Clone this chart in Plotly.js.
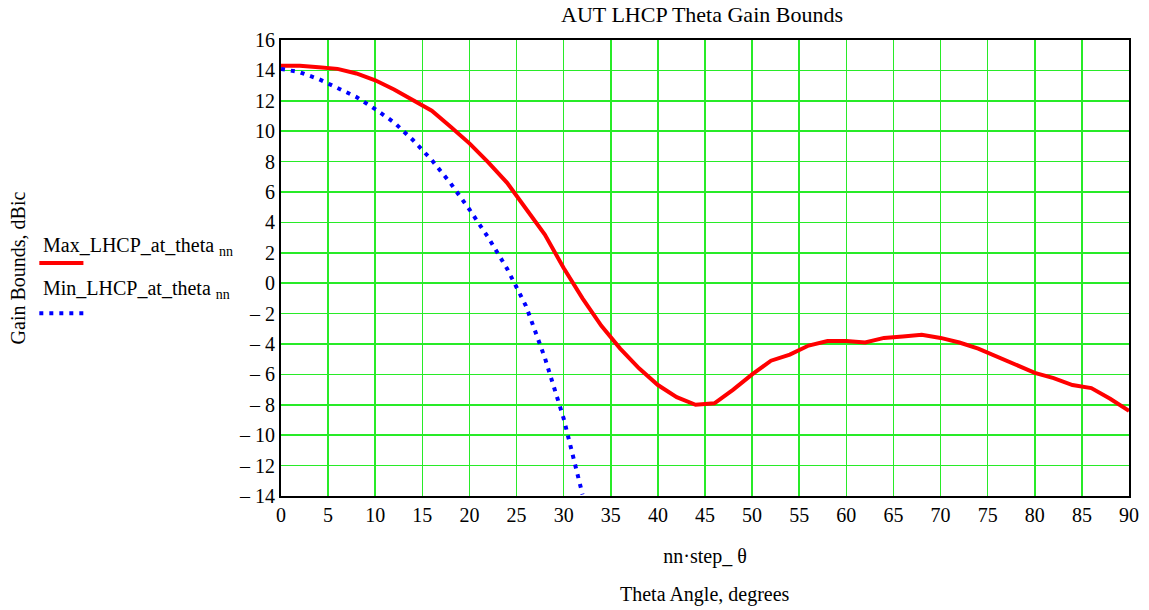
<!DOCTYPE html>
<html><head><meta charset="utf-8">
<script src="https://cdn.plot.ly/plotly-3.0.1.min.js"></script>
<style>html,body{margin:0;padding:0;background:#fff}#chart{width:1149px;height:610px}</style>
</head><body><div id="chart"></div>
<script>
const thetaMax = [0,2,4,6,8,10,12,14,16,18,20,22,24,26,28,30,32,34,36,38,40,42,44,46,48,50,52,54,56,58,60,62,64,66,68,70,72,74,76,78,80,82,84,86,88,90];
const maxLHCP = [14.3,14.3,14.2,14.1,13.8,13.35,12.75,12.05,11.35,10.3,9.2,7.95,6.6,4.9,3.2,1.0,-1.0,-2.8,-4.3,-5.6,-6.7,-7.5,-8.0,-7.9,-7.0,-6.0,-5.1,-4.7,-4.1,-3.8,-3.8,-3.9,-3.6,-3.5,-3.4,-3.6,-3.9,-4.3,-4.85,-5.4,-5.9,-6.25,-6.7,-6.9,-7.6,-8.4];
const thetaMin = [0,2,4,6,8,10,12,14,16,18,20,22,24,26,28,30,32];
const minLHCP = [14.1,13.88,13.43,12.87,12.25,11.45,10.58,9.42,8.1,6.57,4.85,3.0,0.95,-1.5,-4.9,-8.9,-13.9];
const xTicks = [0,5,10,15,20,25,30,35,40,45,50,55,60,65,70,75,80,85,90];
const yTicks = [-14,-12,-10,-8,-6,-4,-2,0,2,4,6,8,10,12,14,16];
const yTickText = yTicks.map(v => v < 0 ? '\u2013 ' + Math.abs(v) : String(v));

const serif = "'Liberation Serif', 'Times New Roman', serif";
const green = 'rgb(40,235,40)';

const traces = [
  {x: thetaMax, y: maxLHCP, mode: 'lines', name: 'Max_LHCP_at_theta<sub>nn</sub>',
   line: {color: 'rgb(255,0,0)', width: 4}},
  {x: thetaMin, y: minLHCP, mode: 'lines', name: 'Min_LHCP_at_theta<sub>nn</sub>',
   line: {color: 'rgb(0,0,255)', width: 4, dash: '4px,6px'}}
];

const layout = {
  width: 1149, height: 610,
  margin: {l: 281, r: 20, t: 40, b: 114},
  paper_bgcolor: '#fff', plot_bgcolor: '#fff',
  showlegend: false,
  font: {family: serif, color: '#000', size: 20},
  title: {text: 'AUT LHCP Theta Gain Bounds', x: 0.611, xanchor: 'center', y: 0.977, yanchor: 'middle',
          font: {family: serif, size: 22, color: '#000'}},
  xaxis: {range: [0, 90], tickvals: xTicks, ticktext: xTicks.map(String), showgrid: true,
          gridcolor: green, gridwidth: 1.5, zeroline: false, showline: true, mirror: true,
          linecolor: '#000', linewidth: 2, ticks: '', tickfont: {family: serif, size: 20},
          title: {text: 'nn\u00b7step_ \u03b8', font: {family: serif, size: 20}, standoff: 24}},
  yaxis: {range: [-14, 16], tickvals: yTicks, ticktext: yTickText, showgrid: true,
          gridcolor: green, gridwidth: 1.5, zeroline: false, showline: true, mirror: true,
          linecolor: '#000', linewidth: 2, ticks: '', tickfont: {family: serif, size: 20},
          title: {text: 'Gain Bounds, dBic', font: {family: serif, size: 20}, standoff: 208}},
  annotations: [
    {text: 'Theta Angle, degrees', xref: 'paper', yref: 'paper', x: 0.5, y: -0.217,
     xanchor: 'center', yanchor: 'middle', showarrow: false, font: {family: serif, size: 20}},
    {text: 'Max_LHCP_at_theta <sub>nn</sub>', xref: 'paper', yref: 'paper', x: -0.283, y: 0.548,
     xanchor: 'left', yanchor: 'middle', showarrow: false, font: {family: serif, size: 20}},
    {text: 'Min_LHCP_at_theta <sub>nn</sub>', xref: 'paper', yref: 'paper', x: -0.283, y: 0.452,
     xanchor: 'left', yanchor: 'middle', showarrow: false, font: {family: serif, size: 20}}
  ],
  shapes: [
    {type: 'line', xref: 'paper', yref: 'paper', x0: -0.285, x1: -0.233, y0: 0.511, y1: 0.511,
     line: {color: 'rgb(255,0,0)', width: 4}},
    {type: 'line', xref: 'paper', yref: 'paper', x0: -0.285, x1: -0.233, y0: 0.401, y1: 0.401,
     line: {color: 'rgb(0,0,255)', width: 4, dash: '4px,6px'}}
  ]
};
Plotly.newPlot('chart', traces, layout, {displayModeBar: false, staticPlot: true});
</script></body></html>
